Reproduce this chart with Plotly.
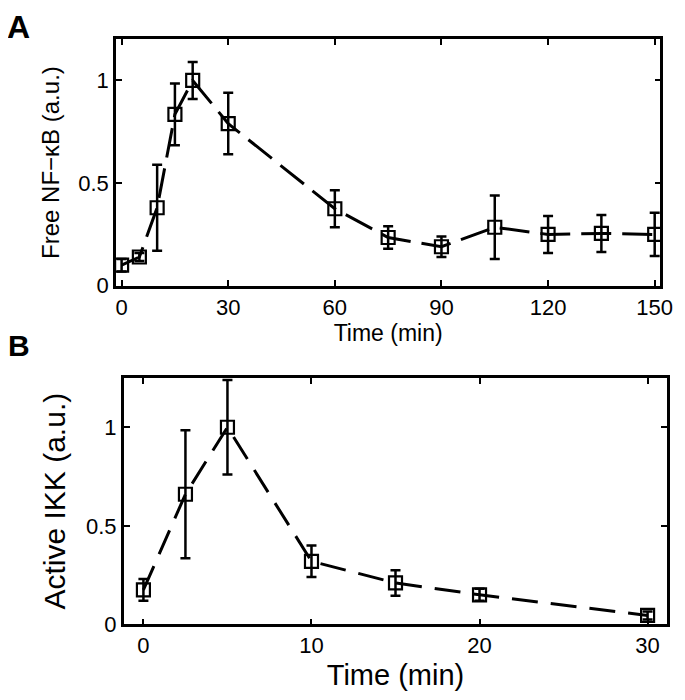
import plotly.graph_objects as go

# Panel A: free NF-kB
time_a = [0, 5, 10, 15, 20, 30, 60, 75, 90, 105, 120, 135, 150]
nfkb = [0.10, 0.14, 0.38, 0.835, 1.0, 0.79, 0.375, 0.235, 0.19, 0.285, 0.25, 0.255, 0.25]
nfkb_err = [0.03, 0.02, 0.21, 0.15, 0.09, 0.15, 0.09, 0.055, 0.05, 0.155, 0.09, 0.09, 0.105]
xticks_a = [0, 30, 60, 90, 120, 150]

# Panel B: active IKK
time_b = [0, 2.5, 5, 10, 15, 20, 30]
ikk = [0.175, 0.66, 1.0, 0.32, 0.21, 0.15, 0.045]
ikk_err = [0.055, 0.325, 0.24, 0.08, 0.065, 0.03, 0.02]
xticks_b = [0, 10, 20, 30]

yticks = [0, 0.5, 1]
ytick_text = ["0", "0.5", "1"]

FONT = "Liberation Sans, Arial, Helvetica, sans-serif"

fig = go.Figure()

fig.add_trace(go.Scatter(
    x=time_a, y=nfkb, mode="lines+markers",
    line=dict(color="black", width=3, dash="30px,11px"),
    marker=dict(symbol="square-open", size=13, color="black", line=dict(width=2.2, color="black")),
    error_y=dict(type="data", array=nfkb_err, visible=True, color="black", thickness=2.5, width=5),
    xaxis="x", yaxis="y", showlegend=False,
))

fig.add_trace(go.Scatter(
    x=time_b, y=ikk, mode="lines+markers",
    line=dict(color="black", width=3, dash="26px,13px"),
    marker=dict(symbol="square-open", size=13, color="black", line=dict(width=2.2, color="black")),
    error_y=dict(type="data", array=ikk_err, visible=True, color="black", thickness=2.5, width=5),
    xaxis="x2", yaxis="y2", showlegend=False,
))

axis_common = dict(
    showline=True, linewidth=2.5, linecolor="black", mirror="ticks",
    ticks="inside", ticklen=6, tickwidth=2, tickcolor="black",
    showgrid=False, zeroline=False,
    tickfont=dict(family=FONT, size=22, color="black"),
)

fig.update_layout(
    width=685, height=700,
    margin=dict(l=0, r=0, t=0, b=0),
    paper_bgcolor="white", plot_bgcolor="white",
    font=dict(family=FONT, color="black"),
    xaxis=dict(axis_common, domain=[110/685, 665/685], anchor="y", range=[-1.6, 151.6],
               tickvals=xticks_a, ticktext=[str(v) for v in xticks_a],
               title=dict(text="Time (min)", font=dict(size=23), standoff=0)),
    yaxis=dict(axis_common, domain=[1-283/700, 1-32/700], anchor="x", range=[0, 1.2],
               tickvals=yticks, ticktext=ytick_text,
               title=dict(text="Free NF\u2212\u03baB (a.u.)", font=dict(size=24), standoff=12)),
    xaxis2=dict(axis_common, domain=[118/685, 672/685], anchor="y2", range=[-1.17, 31.17],
                tickvals=xticks_b, ticktext=[str(v) for v in xticks_b],
                title=dict(text="Time (min)", font=dict(size=29), standoff=8)),
    yaxis2=dict(axis_common, domain=[1-628/700, 1-377/700], anchor="x2", range=[0, 1.25],
                tickvals=yticks, ticktext=ytick_text,
                title=dict(text="Active IKK (a.u.)", font=dict(size=30), standoff=12)),
    annotations=[
        dict(text="<b>A</b>", x=14/685, y=1-20/700, xref="paper", yref="paper",
             xanchor="center", yanchor="middle", xshift=-3, yshift=1,
             showarrow=False, font=dict(size=32, family=FONT)),
        dict(text="<b>B</b>", x=14/685, y=1-346/700, xref="paper", yref="paper",
             xanchor="center", yanchor="middle", xshift=-3, yshift=2,
             showarrow=False, font=dict(size=30, family=FONT)),
    ],
)

fig.write_html("out.html")
